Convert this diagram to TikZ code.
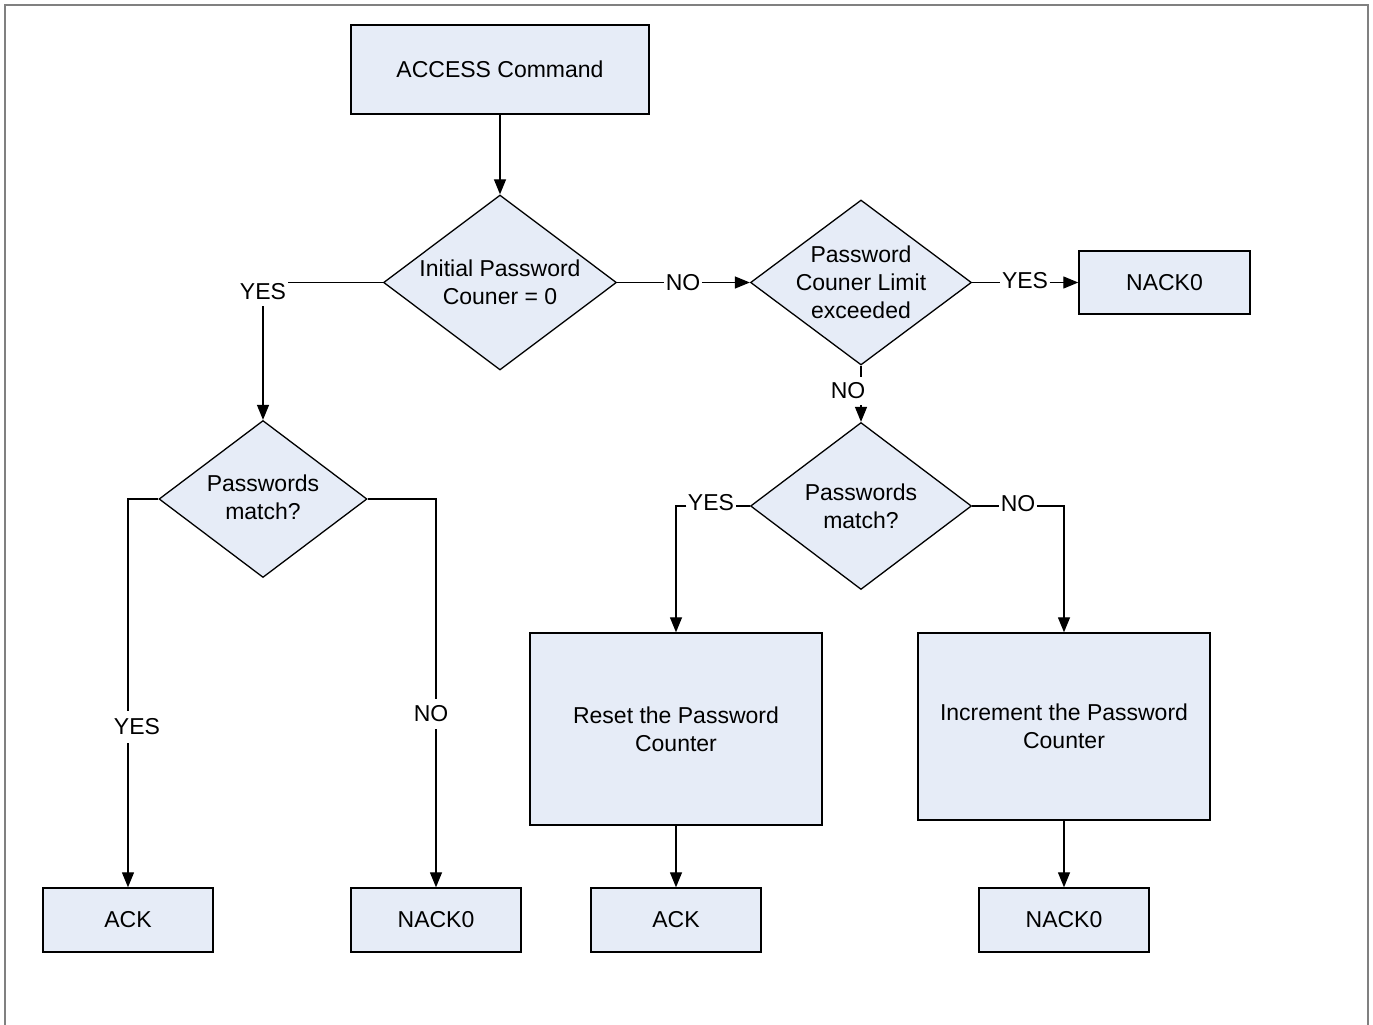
\documentclass[tikz,border=0pt]{standalone}
\usepackage{fontspec}
\setmainfont{Liberation Sans}
\usetikzlibrary{shapes.geometric,arrows.meta}
\definecolor{boxfill}{RGB}{230,236,247}
\definecolor{framegray}{RGB}{128,128,128}
\begin{document}
\begin{tikzpicture}[x=1pt,y=-1pt,
  every node/.style={font=\fontsize{23}{28}\selectfont},
  box/.style={draw,line width=1.4pt,fill=boxfill,rectangle,inner sep=0pt,align=center},
  dia/.style={draw,line width=1.3pt,fill=boxfill,diamond,inner sep=0pt},
  dtext/.style={align=center,inner sep=0pt},
  hl/.style={inner xsep=1.5pt,inner ysep=2pt},
  vl/.style={inner xsep=2pt,inner ysep=6pt},
  conn/.style={line width=1.3pt},
  arr/.style={conn,-{Triangle[length=15pt,width=12pt]}}]
\useasboundingbox (0,0) rectangle (1373,1025);
\draw[framegray,line width=2pt] (5,1026) -- (5,5) -- (1368,5) -- (1368,1026);

% boxes
\node[box,minimum width=298pt,minimum height=89pt] (start) at (500,69.5) {ACCESS Command};
\node[box,minimum width=171pt,minimum height=63pt] (nackA) at (1164.5,282.5) {NACK0};
\node[box,minimum width=292pt,minimum height=192pt] (reset) at (676,729) {Reset the Password\\Counter};
\node[box,minimum width=292pt,minimum height=187pt] (incr) at (1064,726.5) {Increment the Password\\Counter};
\node[box,minimum width=170pt,minimum height=64pt] (ack1) at (128,920) {ACK};
\node[box,minimum width=170pt,minimum height=64pt] (nack1) at (436,920) {NACK0};
\node[box,minimum width=170pt,minimum height=64pt] (ack2) at (676,920) {ACK};
\node[box,minimum width=170pt,minimum height=64pt] (nack2) at (1064,920) {NACK0};

% diamonds
\node[dia,minimum width=233pt,minimum height=175pt] (d1) at (500,282.5) {};
\node[dtext] at (d1) {Initial Password\\Couner = 0};
\node[dia,minimum width=208pt,minimum height=157pt] (d2) at (263,499) {};
\node[dtext] at (263,497) {Passwords\\match?};
\node[dia,minimum width=221pt,minimum height=165pt] (d3) at (861,282.5) {};
\node[dtext] at (d3) {Password\\Couner Limit\\exceeded};
\node[dia,minimum width=221pt,minimum height=167pt] (d4) at (861,506) {};
\node[dtext] at (861,506) {Passwords\\match?};

% connector labels
\node[vl] (l1) at (263,292) {YES};
\node[hl] (l2) at (683,282.5) {NO};
\node[hl] (l3) at (1025,281) {YES};
\node[vl] (l4) at (848,391) {NO};
\node[vl,inner ysep=8pt] (l5) at (137,727) {YES};
\node[vl,inner ysep=7pt] (l6) at (431,714) {NO};
\node[hl] (l7) at (711,503) {YES};
\node[hl] (l8) at (1018,504) {NO};

% connectors
\draw[arr] (start) -- (d1);
\draw[conn] (d1.west) -- (d1.west -| l1.east);
\draw[arr] (l1.south) -- (d2.north);
\draw[conn] (d1.east) -- (d1.east -| l2.west);
\draw[arr] (d1.east -| l2.east) -- (d3.west);
\draw[conn] (d3.east) -- (d3.east -| l3.west);
\draw[arr] (d3.east -| l3.east) -- (nackA.west);
\draw[conn] (d3.south) -- (d3.south |- l4.north);
\draw[arr] (d3.south |- l4.south) -- (d4.north);
\draw[conn] (d2.west) -| (ack1.north |- l5.north);
\draw[arr] (ack1.north |- l5.south) -- (ack1.north);
\draw[conn] (d2.east) -| (nack1.north |- l6.north);
\draw[arr] (nack1.north |- l6.south) -- (nack1.north);
\draw[conn] (d4.west) -- (d4.west -| l7.east);
\draw[arr] (d4.west -| l7.west) -| (reset.north);
\draw[conn] (d4.east) -- (d4.east -| l8.west);
\draw[arr] (d4.east -| l8.east) -| (incr.north);
\draw[arr] (reset) -- (ack2);
\draw[arr] (incr) -- (nack2);
\end{tikzpicture}
\end{document}
